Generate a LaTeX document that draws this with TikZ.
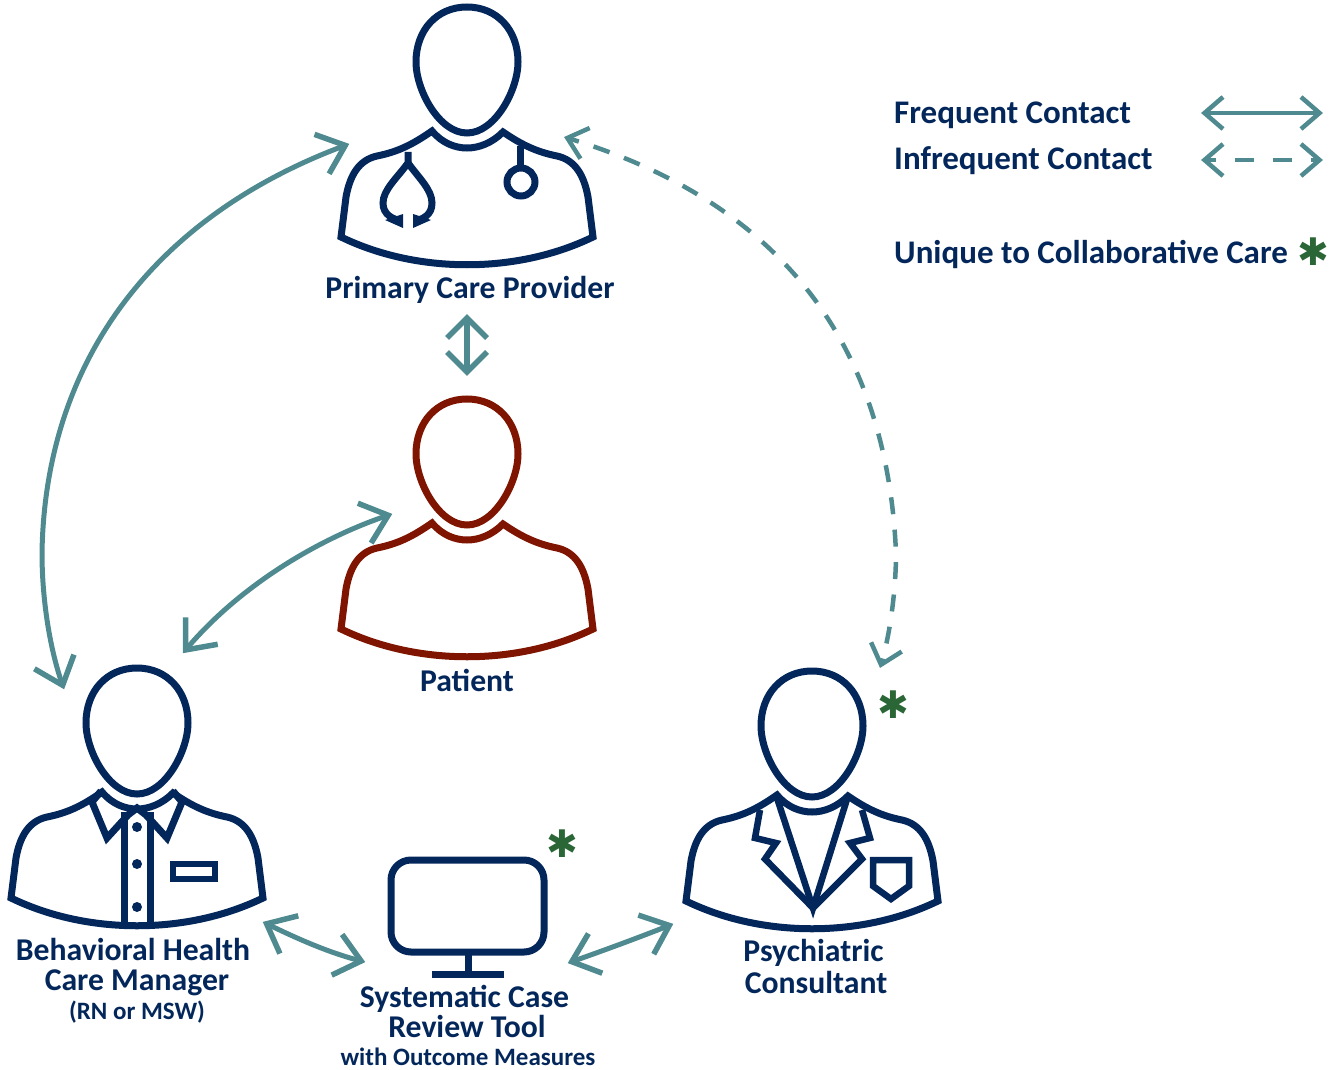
\documentclass[tikz,border=0pt]{standalone}
\usepackage{fontspec}
\setmainfont{Carlito}
\newfontfamily\starfont{DejaVu Sans}
\usetikzlibrary{arrows.meta}
\definecolor{navy}{HTML}{03275A}
\definecolor{tealc}{HTML}{4E8A8F}
\definecolor{redc}{HTML}{7F1400}
\definecolor{greenc}{HTML}{2B6636}
% chevron arrow tip: name, back x, half width, apex x, line width
\newcommand{\declchev}[5]{%
  \pgfdeclarearrow{name=#1,
    setup code={\pgfarrowssettipend{0pt}\pgfarrowssetlineend{-#4}\pgfarrowssetbackend{-#2}\pgfarrowssetvisualbackend{-#4}\pgfarrowssetvisualtipend{0pt}},
    drawing code={\pgfsetdash{}{0pt}\pgfsetbuttcap\pgfsetmiterjoin\pgfsetlinewidth{#5}%
      \pgfpathmoveto{\pgfpoint{-#2}{#3}}\pgfpathlineto{\pgfpoint{-#4}{0pt}}\pgfpathlineto{\pgfpoint{-#2}{-#3}}\pgfusepathqstroke}}}
\declchev{ChevB}{29pt}{21pt}{4pt}{5.5pt}
\declchev{ChevS}{22pt}{16pt}{3.5pt}{4.5pt}
\declchev{ChevV}{24pt}{20pt}{4pt}{5.5pt}
\newcommand{\personfig}{%
  \draw[fig] (0,7) .. controls (30,7) and (51,30) .. (51,62)
    .. controls (51,90) and (28,133) .. (0,133)
    .. controls (-28,133) and (-51,90) .. (-51,62)
    .. controls (-51,30) and (-30,7) .. (0,7) -- cycle;
  \draw[fig] (-35,131) .. controls (-25,143) and (-12,148) .. (0,148)
    .. controls (12,148) and (25,143) .. (36,132)
    .. controls (55,145) and (70,152) .. (90,156)
    .. controls (108,160) and (117,175) .. (121,197)
    -- (126,237) .. controls (50,274) and (-50,274) .. (-126,237)
    -- (-121,197) .. controls (-117,175) and (-108,160) .. (-90,156)
    .. controls (-70,152) and (-55,145) .. (-35,131) -- cycle;
}
\tikzset{
  x=1pt,y=-1pt,
  fig/.style={line width=7pt,line join=miter,miter limit=6},
  arr/.style={draw=tealc,line width=5pt,ChevB-ChevB},
  arrs/.style={draw=tealc,line width=4.5pt,ChevS-ChevS},
  arrv/.style={draw=tealc,line width=6pt,ChevV-ChevV},
  lab/.style={text=navy,font=\bfseries\fontsize{31.7}{30}\selectfont,align=center,inner sep=0pt},
  sublab/.style={text=navy,font=\bfseries\fontsize{25}{26}\selectfont,align=center,inner sep=0pt},
  leg/.style={text=navy,font=\bfseries\fontsize{33}{34}\selectfont,anchor=west,inner sep=0pt},
  star/.style={text=greenc,font=\starfont\fontsize{38}{38}\selectfont,inner sep=0pt},
}
\begin{document}
\begin{tikzpicture}
\useasboundingbox (0,0) rectangle (1333,1070);
% Primary care provider
\begin{scope}[shift={(467,0)},draw=navy]
  \personfig
  \draw[fig] (-59,152) -- (-59,163) .. controls (-70,178) and (-84,190) .. (-84,203)
     .. controls (-84,215) and (-74,219) .. (-66,221);
  \draw[fig] (-59,163) .. controls (-48,178) and (-35,190) .. (-35,203)
     .. controls (-35,215) and (-44,219) .. (-52,221);
  \fill[navy] (-64,214) -- (-64,228) -- (-82,220) -- cycle;
  \fill[navy] (-54,214) -- (-54,228) -- (-36,220) -- cycle;
  \draw[fig] (53,146) -- (53,168);
  \draw[fig] (54,182) circle[radius=14];
\end{scope}
% Patient
\begin{scope}[shift={(467,392)},draw=redc]
  \personfig
\end{scope}
% Behavioral health care manager
\begin{scope}[shift={(137,661)},draw=navy]
  \personfig
  \draw[fig] (-36,130) -- (-45,141) -- (-30,177) -- (-9,154) -- (0,147) -- (9,154) -- (30,177) -- (45,141) -- (36,130);
  \draw[fig] (-13,151) -- (-13,265) (13,151) -- (13,265);
  \fill[navy] (0,166) circle[radius=5] (0,203) circle[radius=5] (0,246) circle[radius=5];
  \draw[line width=6pt] (36,203) rectangle (78,218);
\end{scope}
% Psychiatric consultant
\begin{scope}[shift={(812,664)},draw=navy]
  \personfig
  \draw[line width=6.5pt,line join=miter,miter limit=10] (-36,131) -- (1,244) -- (36,132);
  \draw[line width=6.5pt,line join=miter,miter limit=10] (-52,146) -- (-57,174) -- (-36,179) -- (-47,195) -- (1,244) -- (50,195) -- (38,179) -- (58,174) -- (50,146);
  \draw[line width=6.5pt,line join=miter] (61,196) -- (97,196) -- (97,222) -- (79,235) -- (61,222) -- cycle;
\end{scope}
% Monitor
\draw[navy,fig,rounded corners=20pt] (391,860) rectangle (544,952);
\draw[navy,fig] (468,952) -- (468,974);
\draw[navy,fig] (432,974) -- (504,974);
% Labels
\node[lab] (pcp) at (470,290) {Primary Care Provider};
\node[lab] (pat) at (467,680) {Patient};
\node[lab] (bhm) at (137,967) {Behavioral Health\hspace*{8pt}\\Care Manager};
\node[sublab] (rn) at (137,1012) {(RN or MSW)};
\node[lab] (sct) at (467,1011) {Systematic Case\hspace*{5pt}\\Review Tool};
\node[sublab] (wom) at (468,1057) {with Outcome Measures};
\node[lab] (psy) at (816,966) {Psychiatric\hspace*{5pt}\\[2pt]Consultant};
\node[leg] (l1) at (894,115) {Frequent Contact};
\node[leg] (l2) at (894,161) {Infrequent Contact};
\node[leg] (l3) at (894,254) {Unique to Collaborative Care};
\node[star] (s1) at (893,705) {✱};
\node[star] (s2) at (562,844) {✱};
\node[star] (s3) at (1313,252) {✱};
% Connector ends
\coordinate (pcpW) at (349,144);
\coordinate (pcpE) at (564,137);
\coordinate (pcpS) at (467,314);
\coordinate (patN) at (467,376);
\coordinate (patW) at (392,514);
\coordinate (bhmN) at (64,689);
\coordinate (bhmE) at (183,653);
\coordinate (bhmR) at (263,922);
\coordinate (toolW) at (365,962);
\coordinate (toolE) at (568,963);
\coordinate (psyW) at (673,924);
\coordinate (psyN) at (880,668);
\coordinate (fa) at (1201,113);
\coordinate (fb) at (1323,113);
\coordinate (ia) at (1201,160);
\coordinate (ib) at (1323,160);
% Connectors
\draw[arr] (pcpW) .. controls (155,216) and (45,360) .. (42,553) .. controls (42,600) and (50,650) .. (bhmN);
\draw[arrs,dash pattern=on 17pt off 15.5pt,dash phase=5pt] (pcpE) .. controls (780,202) and (887,343) .. (896,553) .. controls (896,590) and (890,635) .. (psyN);
\draw[arrv] (pcpS) -- (patN);
\draw[arr] (patW) .. controls (320,538) and (240,585) .. (bhmE);
\draw[arr] (bhmR) .. controls (300,940) and (330,953) .. (toolW);
\draw[arr] (toolE) .. controls (605,950) and (640,937) .. (psyW);
\draw[arrs] (fa) -- (fb);
\draw[arrs,dash pattern=on 19pt off 19pt,dash phase=8pt] (ia) -- (ib);
\end{tikzpicture}
\end{document}
